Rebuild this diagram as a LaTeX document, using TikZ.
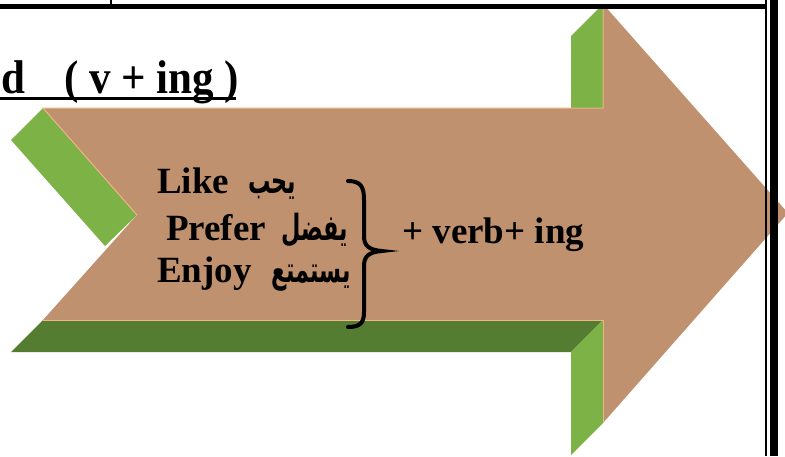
\documentclass[tikz,border=0pt]{standalone}
\usepackage{fontspec}
\setmainfont{Liberation Serif}
\newfontfamily\arabicfont[Script=Arabic]{DejaVu Sans}
\TeXXeTstate=1
\usetikzlibrary{calc}
\definecolor{facebrown}{RGB}{192,145,110}
\definecolor{sidegreen}{RGB}{124,178,70}
\definecolor{bottomgreen}{RGB}{84,125,50}
\definecolor{edgepeach}{RGB}{240,180,135}
\tikzstyle{engword} = [anchor=base west, inner sep=0pt, font=\fontsize{37}{37}\selectfont\bfseries]
\tikzstyle{arword} = [anchor=base west, inner sep=0pt, xscale=0.62, transform shape, font=\fontsize{36}{36}\selectfont\arabicfont\bfseries]
\tikzstyle{titleword} = [anchor=base west, inner sep=0pt, yscale=1.1, transform shape, font=\fontsize{43}{43}\selectfont\bfseries]

\begin{document}
\begin{tikzpicture}[x=1pt, y=-1pt]
        \useasboundingbox (0, 0) rectangle (785, 456);
        % side faces of the arrow
        \fill[sidegreen] (43, 108) -- (137, 215) -- (105, 246) -- (11, 140) -- cycle;
        \fill[bottomgreen] (43, 320) -- (603, 320) -- (571, 352) -- (11, 352) -- cycle;
        \fill[sidegreen] (603, 108) -- (603, 4) -- (571, 36) -- (571, 140) -- cycle;
        \fill[sidegreen] (603, 320) -- (603, 423) -- (571, 455) -- (571, 352) -- cycle;
        % front face
        \fill[facebrown] (43, 108) -- (603, 108) -- (603, 4) -- (788, 213) -- (603, 423) -- (603, 320) -- (43, 320) -- (137, 215) -- cycle;
        \draw[edgepeach, line width=1pt] (137, 215) -- (43, 108) -- (603, 108) -- (603, 4);
        \draw[edgepeach, line width=1pt] (43, 320) -- (603, 320) -- (603, 423);

        % page frame
        \draw[line width=5pt] (0, 6.5) -- (766, 6.5);
        \draw[line width=1.2pt] (111, 0) -- (111, 5);
        \draw[line width=1.5pt] (766, 0) -- (766, 456);
        \draw[line width=8pt] (774, 0) -- (774, 456);

        % title
        \node[titleword] at (1, 93) (titleD) {d};
        \node[titleword] at (64, 93) (titleVing) {( v + ing )};
        \draw[line width=3pt] (0, 98.5) -- (236, 98.5);

        % verbs
        \node[engword] at (157, 193) (like) {Like};
        \node[arword] at (248, 193) (likeAr) {\beginR يحب\endR};
        \node[engword] at (166, 240) (prefer) {Prefer};
        \node[arword] at (281, 240) (preferAr) {\beginR يفضل\endR};
        \node[engword] at (157, 282) (enjoy) {Enjoy};
        \node[arword] at (271, 282) (enjoyAr) {\beginR يستمتع\endR};
        \draw[line width=4pt, line cap=round] (348, 181) .. controls (361, 181) and (364, 187) .. (364, 200) -- (364, 236) .. controls (364, 245) and (368, 250) .. (382, 251) .. controls (368, 252) and (364, 257) .. (364, 266) -- (364, 312) .. controls (364, 323) and (360, 327) .. (348, 327);
        \node[engword] at (402, 243) (verbing) {+ verb+ ing};
\end{tikzpicture}
\end{document}
